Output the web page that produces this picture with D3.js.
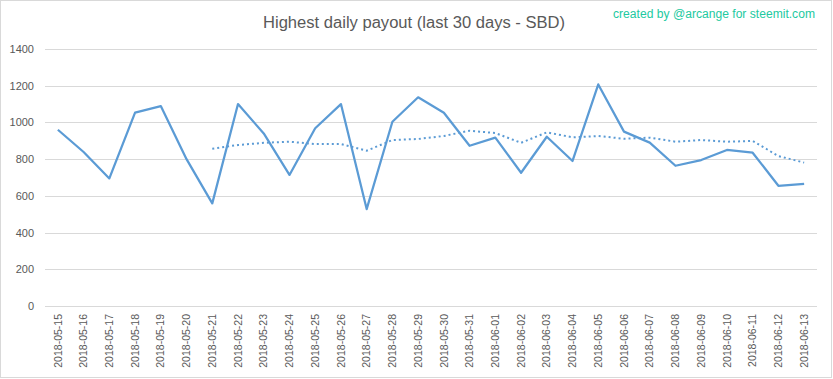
<!DOCTYPE html>
<html><head><meta charset="utf-8">
<script src="https://cdn.jsdelivr.net/npm/d3@7"></script>
<style>body{margin:0;background:#fff}svg{display:block}</style>
</head><body>
<script>
const dates = ["2018-05-15","2018-05-16","2018-05-17","2018-05-18","2018-05-19","2018-05-20","2018-05-21","2018-05-22","2018-05-23","2018-05-24","2018-05-25","2018-05-26","2018-05-27","2018-05-28","2018-05-29","2018-05-30","2018-05-31","2018-06-01","2018-06-02","2018-06-03","2018-06-04","2018-06-05","2018-06-06","2018-06-07","2018-06-08","2018-06-09","2018-06-10","2018-06-11","2018-06-12","2018-06-13"];
const payout = [960,839,695,1053,1089,800,559,1100,940,714,968,1100,528,1004,1137,1053,873,917,726,922,790,1207,950,890,764,795,850,835,655,665];
const movingAvg = [null,null,null,null,null,null,857,877,889,895,882,882,846,904,910,926,955,942,889,946,919,926,911,917,895,904,895,899,817,781];
const yTicks = [0,200,400,600,800,1000,1200,1400];
const title = "Highest daily payout (last 30 days - SBD)";
const credit = "created by @arcange for steemit.com";

const W = 833, H = 379;
const svg = d3.select("body").append("svg").attr("width", W).attr("height", H);
svg.append("rect").attr("x",0.5).attr("y",0.5).attr("width",W-2).attr("height",H-2)
  .attr("fill","#fff").attr("stroke","#d9d9d9");

const x = d3.scaleBand().domain(dates).range([45, 817]);
const y = d3.scaleLinear().domain([0, 1400]).range([306, 49]);
const font = "'Liberation Sans', Arial, sans-serif";

// grid
svg.append("g").selectAll("line").data(yTicks).join("line")
  .attr("x1", 45).attr("x2", 817)
  .attr("y1", d => Math.round(y(d)) + 0.5).attr("y2", d => Math.round(y(d)) + 0.5)
  .attr("stroke", "#d9d9d9").attr("stroke-width", 1);

// y axis labels
const yAxis = d3.axisLeft(y).tickValues(yTicks).tickFormat(d3.format("d")).tickSize(0).tickPadding(0);
const gy = svg.append("g").attr("transform", "translate(34,0)").call(yAxis);
gy.select(".domain").remove();
gy.selectAll("text").attr("fill", "#595959").style("font-family", font).style("font-size", "11px");

// x axis labels
const xAxis = d3.axisBottom(x).tickSize(0).tickPadding(0);
const gx = svg.append("g").attr("transform", "translate(0,306)").call(xAxis);
gx.select(".domain").remove();
gx.selectAll("text")
  .attr("fill", "#595959").style("font-family", font).style("font-size", "10.5px")
  .attr("text-anchor", "end").attr("transform", "rotate(-90)")
  .attr("x", -8).attr("y", 0).attr("dy", "0.35em");

const cx = d => x(d) + x.bandwidth() / 2;

// moving average (dotted)
const maData = dates.map((d, i) => ({d, v: movingAvg[i]}));
svg.append("path").datum(maData)
  .attr("d", d3.line().defined(p => p.v != null).x(p => cx(p.d)).y(p => y(p.v)))
  .attr("fill", "none").attr("stroke", "#5b9bd5").attr("stroke-width", 2)
  .attr("stroke-dasharray", "2,3");

// main line
const mainData = dates.map((d, i) => ({d, v: payout[i]}));
svg.append("path").datum(mainData)
  .attr("d", d3.line().x(p => cx(p.d)).y(p => y(p.v)))
  .attr("fill", "none").attr("stroke", "#5b9bd5").attr("stroke-width", 2.25)
  .attr("stroke-linejoin", "round");

// title
svg.append("text").attr("x", 263).attr("y", 28).text(title)
  .attr("fill", "#595959").style("font-family", font).style("font-size", "16px")
  .attr("textLength", 302).attr("lengthAdjust", "spacingAndGlyphs");

// credit
svg.append("text").attr("x", 613).attr("y", 18).text(credit)
  .attr("fill", "#22c9a0").style("font-family", font).style("font-size", "12.5px")
  .attr("textLength", 202).attr("lengthAdjust", "spacingAndGlyphs");
</script>
</body></html>
